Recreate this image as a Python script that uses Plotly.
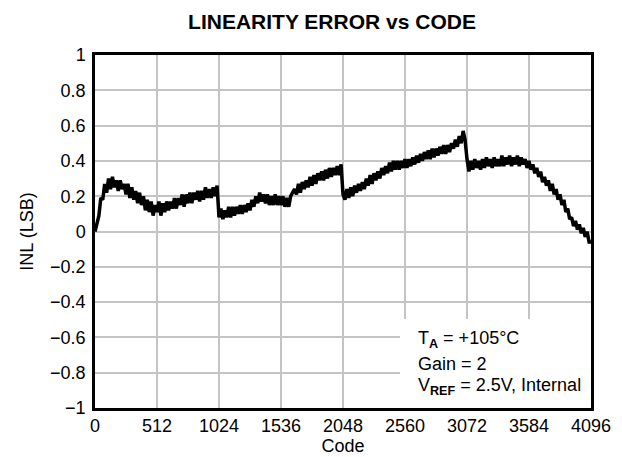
import plotly.graph_objects as go

# INL values read every 16 codes, from code 0 to 4096
codes = list(range(0, 4097, 16))
inl = [
    0.00, 0.04, 0.09, 0.19, 0.18, 0.27, 0.22, 0.30, 0.24, 0.31, 0.25, 0.29, 0.23, 0.29, 0.24, 0.27,
    0.21, 0.27, 0.19, 0.25, 0.18, 0.23, 0.16, 0.22, 0.15, 0.20, 0.12, 0.18, 0.11, 0.17, 0.09, 0.15,
    0.11, 0.17, 0.09, 0.16, 0.11, 0.17, 0.12, 0.17, 0.13, 0.19, 0.13, 0.19, 0.15, 0.21, 0.14, 0.21,
    0.16, 0.22, 0.16, 0.22, 0.18, 0.23, 0.17, 0.23, 0.18, 0.25, 0.19, 0.24, 0.19, 0.25, 0.20, 0.26,
    0.08, 0.13, 0.07, 0.12, 0.08, 0.14, 0.08, 0.14, 0.09, 0.14, 0.10, 0.15, 0.10, 0.15, 0.11, 0.16,
    0.12, 0.18, 0.14, 0.20, 0.16, 0.22, 0.17, 0.21, 0.16, 0.21, 0.15, 0.20, 0.15, 0.21, 0.15, 0.20,
    0.15, 0.20, 0.14, 0.19, 0.14, 0.20, 0.22, 0.24, 0.21, 0.27, 0.22, 0.28, 0.24, 0.29, 0.25, 0.31,
    0.26, 0.32, 0.27, 0.33, 0.29, 0.34, 0.29, 0.35, 0.30, 0.36, 0.31, 0.36, 0.32, 0.37, 0.32, 0.38,
    0.21, 0.18, 0.24, 0.19, 0.25, 0.20, 0.26, 0.22, 0.27, 0.23, 0.28, 0.24, 0.30, 0.26, 0.32, 0.27,
    0.33, 0.29, 0.34, 0.30, 0.36, 0.32, 0.37, 0.33, 0.39, 0.34, 0.40, 0.35, 0.40, 0.35, 0.40, 0.36,
    0.41, 0.36, 0.41, 0.37, 0.42, 0.38, 0.43, 0.39, 0.44, 0.40, 0.45, 0.41, 0.46, 0.41, 0.47, 0.42,
    0.47, 0.43, 0.48, 0.44, 0.49, 0.44, 0.49, 0.45, 0.50, 0.47, 0.52, 0.48, 0.54, 0.50, 0.57, 0.52,
    0.41, 0.34, 0.40, 0.35, 0.41, 0.36, 0.40, 0.35, 0.41, 0.36, 0.42, 0.37, 0.41, 0.36, 0.42, 0.37,
    0.41, 0.37, 0.43, 0.37, 0.42, 0.38, 0.43, 0.37, 0.42, 0.38, 0.43, 0.37, 0.42, 0.38, 0.41, 0.36,
    0.40, 0.35, 0.38, 0.33, 0.36, 0.31, 0.34, 0.28, 0.31, 0.26, 0.29, 0.23, 0.27, 0.21, 0.24, 0.18,
    0.21, 0.15, 0.18, 0.11, 0.13, 0.07, 0.08, 0.03, 0.06, 0.01, 0.04, -0.01, 0.02, -0.03, 0.00, -0.06,
    -0.06,
]

x_ticks = [0, 512, 1024, 1536, 2048, 2560, 3072, 3584, 4096]
y_ticks = [-1, -0.8, -0.6, -0.4, -0.2, 0, 0.2, 0.4, 0.6, 0.8, 1]
y_labels = ["\u22121", "\u22120.8", "\u22120.6", "\u22120.4", "\u22120.2", "0", "0.2", "0.4", "0.6", "0.8", "1"]

notes = [
    "T<sub><b>A</b></sub> = +105°C",
    "Gain = 2",
    "V<sub><b>REF</b></sub> = 2.5V, Internal",
]
note_y = [0.195, 0.125, 0.062]

FONT = "Liberation Sans, Arial, sans-serif"

fig = go.Figure()
fig.add_trace(go.Scatter(
    x=codes, y=inl, mode="lines",
    line=dict(color="black", width=3.5),
    showlegend=False, hoverinfo="skip",
))

axis_common = dict(
    showline=True, linecolor="black", linewidth=2.5, mirror=True,
    showgrid=True, gridcolor="#c4c4c4", gridwidth=2,
    zeroline=False, ticks="", automargin=False,
    tickfont=dict(family=FONT, size=18, color="black"),
)

fig.update_layout(
    width=622, height=457,
    margin=dict(l=95, r=31, t=55, b=49),
    paper_bgcolor="white", plot_bgcolor="white",
    title=dict(text="<b>LINEARITY ERROR vs CODE</b>", x=332 / 622, xanchor="center",
               y=1 - 22 / 457, yanchor="middle",
               font=dict(family=FONT, size=21, color="black")),
    xaxis=dict(range=[0, 4096], tickvals=x_ticks, ticktext=[str(v) for v in x_ticks],
               ticklabelstandoff=0,
               title=dict(text="Code", font=dict(family=FONT, size=18, color="black"), standoff=2),
               **axis_common),
    yaxis=dict(range=[-1, 1], tickvals=y_ticks, ticktext=y_labels,
               ticklabelstandoff=3,
               title=dict(text="INL (LSB)", font=dict(family=FONT, size=18, color="black"), standoff=12),
               **axis_common),
    font=dict(family=FONT, color="black"),
)

fig.add_shape(type="rect", xref="x", yref="y",
              x0=2519, x1=4096, y0=-1, y1=-0.496,
              fillcolor="white", line=dict(width=0), layer="between")

for txt, yy in zip(notes, note_y):
    fig.add_annotation(text=txt, xref="paper", yref="paper", x=0.647, y=yy,
                       xanchor="left", yanchor="middle", showarrow=False,
                       font=dict(family=FONT, size=18, color="black"))

fig.write_html("out.html", config={"displayModeBar": False},
               post_script="document.body.style.margin='0';")
